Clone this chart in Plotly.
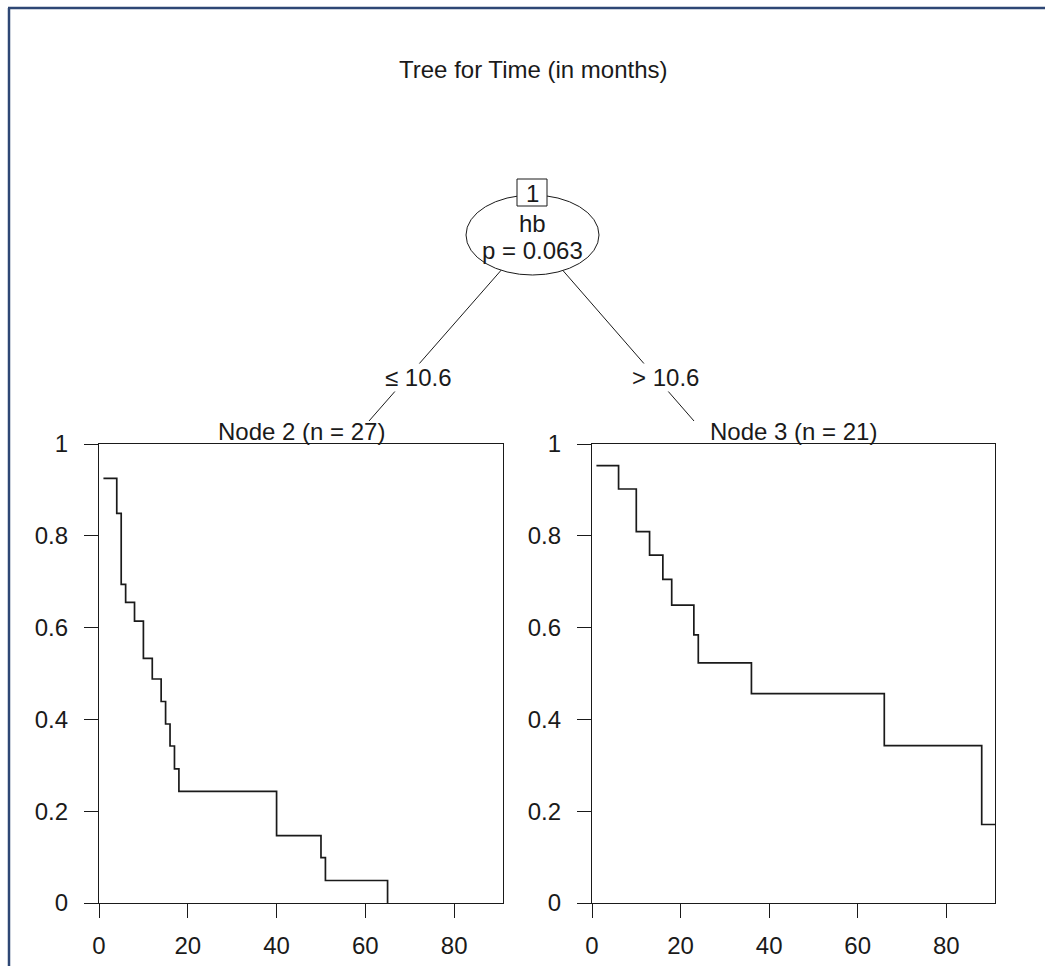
import plotly.graph_objects as go

# ---- data -------------------------------------------------------------
# Kaplan-Meier step curves for the two terminal nodes (time in months)
node2_time = [1, 4, 5, 6, 8, 10, 12, 14, 15, 16, 17, 18, 40, 50, 51, 65]
node2_surv = [0.925, 0.849, 0.694, 0.655, 0.614, 0.533, 0.488, 0.439,
              0.390, 0.342, 0.292, 0.243, 0.147, 0.099, 0.049, 0.0]

node3_time = [1, 6, 10, 13, 16, 18, 23, 24, 36, 66, 88, 91]
node3_surv = [0.953, 0.902, 0.809, 0.758, 0.705, 0.649, 0.584, 0.523,
              0.456, 0.343, 0.171, 0.171]

x_ticks = [0, 20, 40, 60, 80]
y_ticks = [0, 0.2, 0.4, 0.6, 0.8, 1]
y_tick_labels = ["0", "0.2", "0.4", "0.6", "0.8", "1"]

title_text = "Tree for Time (in months)"
split_var = "hb"
split_p = "p = 0.063"
left_rule = "≤ 10.6"
right_rule = "> 10.6"
node2_label = "Node 2 (n = 27)"
node3_label = "Node 3 (n = 21)"

# ---- geometry (page pixels, converted to paper fractions) --------------
W, H = 1045, 966
FONT = "Liberation Sans, Arial, sans-serif"
FS = 24
INK = "#1a1a1a"


def px(x):
    return x / W


def py(y):
    return 1 - y / H


fig = go.Figure()

fig.add_trace(go.Scatter(x=node2_time, y=node2_surv, mode="lines",
                         line=dict(shape="hv", color=INK, width=1.7),
                         xaxis="x", yaxis="y", hoverinfo="skip"))
fig.add_trace(go.Scatter(x=node3_time, y=node3_surv, mode="lines",
                         line=dict(shape="hv", color=INK, width=1.7),
                         xaxis="x2", yaxis="y2", hoverinfo="skip"))

axis_common = dict(showline=True, mirror=True, linecolor=INK, linewidth=1.4,
                   ticks="outside", ticklen=14, tickwidth=1.4, tickcolor=INK,
                   showgrid=False, zeroline=False, automargin=False,
                   tickfont=dict(family=FONT, size=FS, color=INK))

xa = dict(axis_common, range=[0, 91], tickvals=x_ticks, ticklabelstandoff=7)
ya = dict(axis_common, range=[0, 1], tickvals=y_ticks, ticktext=y_tick_labels,
          ticklabelstandoff=11)

fig.update_layout(
    template="none",
    width=W, height=H, autosize=False,
    margin=dict(l=0, r=0, t=0, b=0, pad=0),
    paper_bgcolor="white", plot_bgcolor="white",
    showlegend=False,
    font=dict(family=FONT, size=FS, color=INK),
    xaxis=dict(xa, domain=[px(99), px(503)], anchor="y"),
    yaxis=dict(ya, domain=[py(903), py(444)], anchor="x"),
    xaxis2=dict(xa, domain=[px(592), px(995)], anchor="y2"),
    yaxis2=dict(ya, domain=[py(903), py(444)], anchor="x2"),
)

cx, cy = 532, 235
line_style = dict(color=INK, width=1)
shapes = [
    # edges from the inner node to the two terminal nodes
    dict(type="line", x0=px(cx), y0=py(cy), x1=px(369), y1=py(421),
         line=line_style),
    dict(type="line", x0=px(cx), y0=py(cy), x1=px(694), y1=py(421),
         line=line_style),
    # inner node ellipse
    dict(type="circle", x0=px(466), x1=px(599), y0=py(275), y1=py(195),
         line=line_style, fillcolor="white"),
    # node id box
    dict(type="rect", x0=px(517), x1=px(547), y0=py(206), y1=py(179),
         line=line_style, fillcolor="white"),
]
for s in shapes:
    s.update(xref="paper", yref="paper", layer="above")

# page frame
frame = dict(color="#2e4775", width=2.5)
shapes += [
    dict(type="line", xref="paper", yref="paper", x0=px(8), x1=1,
         y0=py(8), y1=py(8), line=frame),
    dict(type="line", xref="paper", yref="paper", x0=px(9), x1=px(9),
         y0=0, y1=py(8), line=frame),
]
fig.update_layout(shapes=shapes)


def label(text, x, y, bg=None):
    a = dict(text=text, x=px(x), y=py(y), xref="paper", yref="paper",
             showarrow=False, xanchor="center", yanchor="middle",
             font=dict(family=FONT, size=FS, color=INK))
    if bg:
        a.update(bgcolor=bg, borderpad=0)
    return a


fig.update_layout(annotations=[
    label(title_text, 533, 70),
    label("1", 532, 193),
    label(split_var, cx, 223),
    label(split_p, cx, 250),
    label(left_rule, 418, 377, bg="white"),
    label(right_rule, 665, 377, bg="white"),
    label(node2_label, 301, 431),
    label(node3_label, 793, 431),
])

fig.write_html("out.html")
